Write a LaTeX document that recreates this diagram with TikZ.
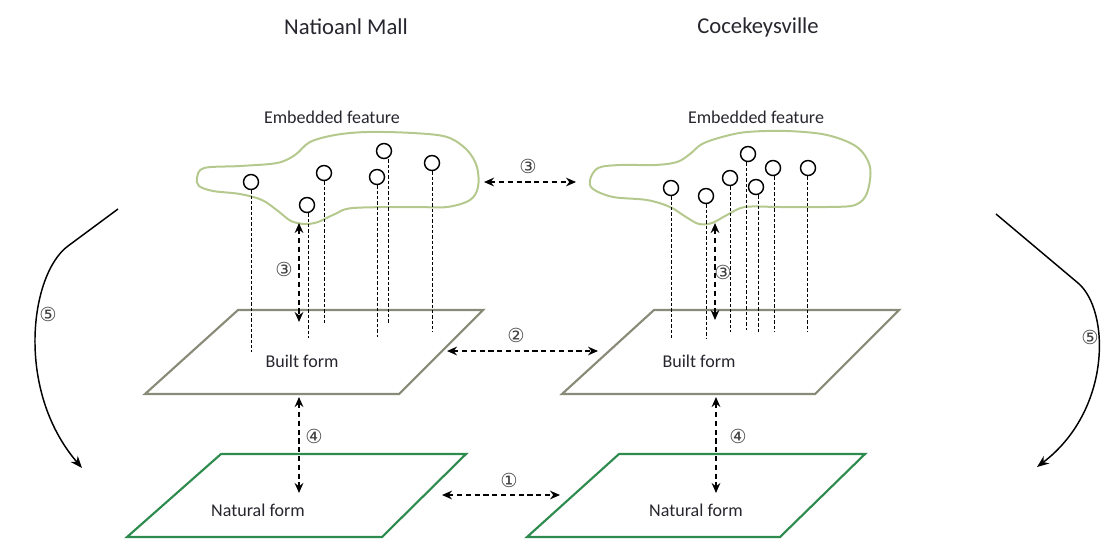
\documentclass[tikz,border=0pt]{standalone}
\usepackage{fontspec}
\setmainfont{Carlito}
\newfontfamily\circfont{DejaVu Sans}
\usetikzlibrary{arrows.meta}
\definecolor{cloudc}{HTML}{B5C98E}
\definecolor{builtc}{HTML}{8A8A78}
\definecolor{natc}{HTML}{2E8B4E}
\definecolor{txt}{HTML}{26262E}
\tikzset{
  title/.style={font=\fontsize{17}{20}\selectfont, text=txt, inner sep=0pt},
  lbl/.style={font=\fontsize{13.5}{16}\selectfont, text=txt, inner sep=0pt},
  num/.style={font=\circfont\fontsize{14.5}{16}\selectfont, text=black!75, inner sep=0pt},
  dot/.style={circle, draw=black, line width=1.1pt, minimum size=11.25pt, inner sep=0pt, fill=white},
  stem/.style={draw=black, line width=0.6pt, dash pattern=on 2.5pt off 1.5pt},
  link/.style={draw=black, line width=1.4pt, dash pattern=on 4pt off 2.6pt,
    {Stealth[length=7.5pt,width=6.5pt]}-{Stealth[length=7.5pt,width=6.5pt]}},
  flow/.style={draw=black, line width=1.1pt, -{Stealth[length=9pt,width=7pt]}},
  builtplane/.style={draw=builtc, line width=1.6pt, line join=miter},
  natplane/.style={draw=natc, line width=1.6pt, line join=miter},
  cloudline/.style={draw=cloudc, line width=1.5pt},
}
\begin{document}
\begin{tikzpicture}[x=0.75pt,y=-0.75pt]
\path[use as bounding box] (0,0) rectangle (1107,551);

% titles
\node[title] (tl) at (346,27) {Natioanl Mall};
\node[title] (tr) at (758,27) {Cocekeysville};

% clouds
\draw[cloudline] plot[smooth cycle, tension=0.55] coordinates {
 (197,178) (204,168) (240,166) (277,163) (295,155) (310,142) (335,135)
 (367,132) (413,133) (447,137) (467,150) (477,167) (478,187) (470,200)
 (447,207) (413,207) (353,208) (335,214) (318,222) (305,224) (291,221)
 (278,211) (262,200) (240,194) (213,191) (199,186)};
\draw[cloudline] plot[smooth cycle, tension=0.55] coordinates {
 (590,180) (598,168) (620,165) (655,165) (677,162) (690,154) (702,144)
 (722,137) (747,132) (787,131) (827,135) (857,147) (870,167) (867,193)
 (855,205) (827,207) (780,207) (745,207) (727,215) (712,223) (699,224)
 (686,217) (670,207) (647,200) (613,197) (593,189)};
\node[lbl] (efl) at (332,117) {Embedded feature};
\node[lbl] (efr) at (756,117) {Embedded feature};

% planes
\coordinate (bl1) at (145,394); \coordinate (bl2) at (399,394);
\coordinate (bl3) at (483,310); \coordinate (bl4) at (238,310);
\draw[builtplane] (bl1) -- (bl2) -- (bl3) -- (bl4) -- cycle;
\coordinate (br1) at (562,394); \coordinate (br2) at (815,394);
\coordinate (br3) at (899,310); \coordinate (br4) at (654,310);
\draw[builtplane] (br1) -- (br2) -- (br3) -- (br4) -- cycle;
\coordinate (nl1) at (127,537); \coordinate (nl2) at (382,537);
\coordinate (nl3) at (466,454); \coordinate (nl4) at (221,454);
\draw[natplane] (nl1) -- (nl2) -- (nl3) -- (nl4) -- cycle;
\coordinate (nr1) at (527,537); \coordinate (nr2) at (780,537);
\coordinate (nr3) at (865,454); \coordinate (nr4) at (619,454);
\draw[natplane] (nr1) -- (nr2) -- (nr3) -- (nr4) -- cycle;

\node[lbl] (bfl) at (302,361) {Built form};
\node[lbl] (bfr) at (699,361) {Built form};
\node[lbl] (nfl) at (258,510) {Natural form};
\node[lbl] (nfr) at (696,510) {Natural form};

% left features
\node[dot] (l1) at (251,182) {};
\node[dot] (l2) at (307,205) {};
\node[dot] (l3) at (324,173) {};
\node[dot] (l4) at (384,151) {};
\node[dot] (l5) at (377,177) {};
\node[dot] (l6) at (432,163) {};
\coordinate (l1e) at (251,352);
\coordinate (l2e) at (308,338);
\coordinate (l3e) at (324,324);
\coordinate (l4e) at (388,324);
\coordinate (l5e) at (377,337);
\coordinate (l6e) at (432,332);
\foreach \i in {1,...,6} {\draw[stem] (l\i.south -| l\i e) -- (l\i e);}

% right features
\node[dot] (r1) at (671,188) {};
\node[dot] (r2) at (706,196) {};
\node[dot] (r3) at (730,178) {};
\node[dot] (r4) at (748,154) {};
\node[dot] (r5) at (756,187) {};
\node[dot] (r6) at (773,168) {};
\node[dot] (r7) at (808,168) {};
\coordinate (r1e) at (671,339);
\coordinate (r2e) at (706,339);
\coordinate (r3e) at (730,332);
\coordinate (r4e) at (746,330);
\coordinate (r5e) at (758,332);
\coordinate (r6e) at (774,332);
\coordinate (r7e) at (807,332);
\foreach \i in {1,...,7} {\draw[stem] (r\i.south -| r\i e) -- (r\i e);}

% link arrows
\coordinate (a3a) at (484,182); \coordinate (a3b) at (576,182);
\draw[link] (a3a) -- (a3b);
\node[num] (n3h) at (528,166) {③};

\coordinate (a3la) at (299,223); \coordinate (a3lb) at (299,322);
\draw[link] (a3la) -- (a3lb);
\node[num] (n3l) at (284,269) {③};

\coordinate (a3ra) at (715,223); \coordinate (a3rb) at (715,320);
\draw[link] (a3ra) -- (a3rb);
\node[num] (n3r) at (723,272) {③};

\coordinate (a2a) at (447,351); \coordinate (a2b) at (598,351);
\draw[link] (a2a) -- (a2b);
\node[num] (n2) at (516,335) {②};

\coordinate (a1a) at (442,495); \coordinate (a1b) at (560,495);
\draw[link] (a1a) -- (a1b);
\node[num] (n1) at (509,480) {①};

\coordinate (a4la) at (299,397); \coordinate (a4lb) at (299,493);
\draw[link] (a4la) -- (a4lb);
\node[num] (n4l) at (314,436) {④};

\coordinate (a4ra) at (716,397); \coordinate (a4rb) at (716,493);
\draw[link] (a4ra) -- (a4rb);
\node[num] (n4r) at (738,436) {④};

% flow arrows 5
\coordinate (f1a) at (118,209); \coordinate (f1b) at (82,468);
\draw[flow] (f1a) -- (68,246) .. controls (30,274) and (15,390) .. (f1b);
\node[num] (n5l) at (48,314) {⑤};
\coordinate (f2a) at (996,214); \coordinate (f2b) at (1037,467);
\draw[flow] (f2a) -- (1078,283) .. controls (1110,310) and (1112,410) .. (f2b);
\node[num] (n5r) at (1090,337) {⑤};
\end{tikzpicture}
\end{document}
